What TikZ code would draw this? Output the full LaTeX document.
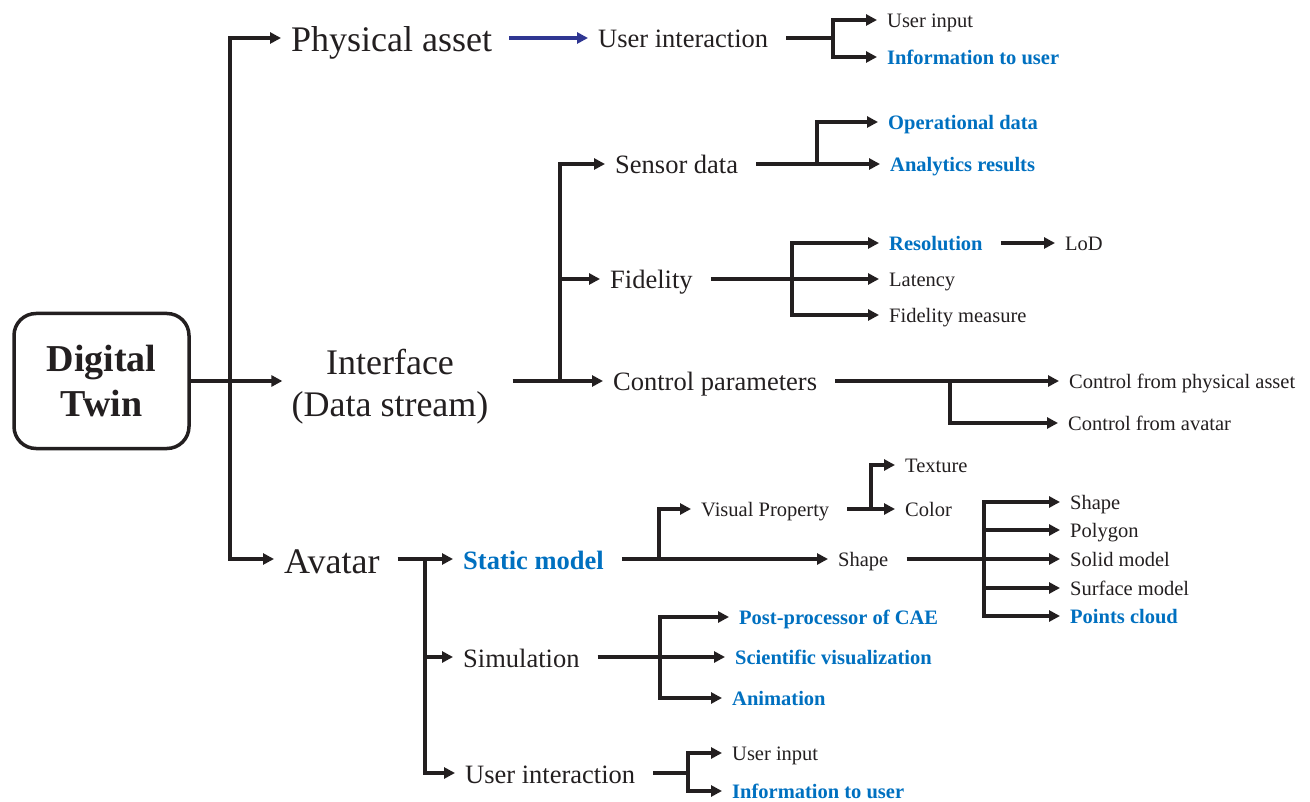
\documentclass[tikz,border=0pt]{standalone}
\usepackage{fontspec}
\setmainfont{Liberation Serif}
\usetikzlibrary{arrows.meta}
\definecolor{ink}{RGB}{35,31,32}
\definecolor{hlblue}{RGB}{0,112,192}
\definecolor{linkblue}{RGB}{47,54,146}
\tikzset{
  ln/.style={draw=ink, line width=3.5pt},
  ar/.style={ln, ->},
  stem/.style={ln, shorten <=8pt},
  lbl/.style={anchor=west, inner xsep=10pt, inner ysep=0pt, text=ink},
  big/.style={lbl, text height=32pt, text depth=4pt, font=\fontsize{36}{42}\selectfont},
  mid/.style={lbl, text height=23.5pt, text depth=3.5pt, font=\fontsize{26.5}{31}\selectfont},
  small/.style={lbl, text height=18pt, text depth=2.8pt, font=\fontsize{20.5}{24}\selectfont},
  hl/.style={text=hlblue, execute at begin node=\bfseries},
  twinbox/.style={draw=ink, line width=3.5pt, rounded corners=22pt, minimum width=175pt, minimum height=135pt, align=center, text=ink, font=\fontsize{38}{45}\selectfont\bfseries}
}
\begin{document}
\begin{tikzpicture}[>={Triangle[length=11pt,width=11pt]}, x=1pt, y=-1pt]
\useasboundingbox (0,0) rectangle (1310,802);
\node[twinbox] (dt) at (101.5,381) {Digital\\Twin};
\coordinate (dtb) at (230,381);
\node[big] (pa) at (281,38) {Physical asset};
\node[align=center, inner xsep=9pt, text=ink, font=\fontsize{36}{42}\selectfont] (ifc) at (390,387) {Interface\\(Data stream)};
\node[big] (av) at (274,559) {Avatar};
\draw[ln] (dt.east) -- (dtb);
\draw[ar] (dtb) |- (pa.west); \draw[ar] (dtb) -- (dtb -| ifc.west); \draw[ar] (dtb) |- (av.west);

\node[mid] (ui) at (588,38) {User interaction};
\draw[->, draw=linkblue, line width=3.2pt, shorten <=7pt] (pa.east) -- (ui.west);
\coordinate (uib) at (833,38);
\node[small] (uin) at (877,20) {User input};
\node[small, hl] (uinfo) at (877,57) {Information to user};
\draw[stem] (ui.east) -- (uib);
\draw[ar] (uib) |- (uin.west); \draw[ar] (uib) |- (uinfo.west);

\coordinate (ifcb) at (560,381);
\node[mid] (sd) at (605,164) {Sensor data};
\node[mid] (fi) at (600,279) {Fidelity};
\node[mid] (cp) at (603,381) {Control parameters};
\draw[stem, shorten <=15pt] (ifc.east |- ifcb) -- (ifcb);
\draw[ar] (ifcb) |- (sd.west); \draw[ar] (ifcb) |- (fi.west); \draw[ar] (ifcb) -- (cp.west);

\coordinate (sdb) at (817,164);
\node[small, hl] (od) at (878,122) {Operational data};
\node[small, hl] (ar) at (880,164) {Analytics results};
\draw[stem] (sd.east) -- (sdb);
\draw[ar] (sdb) |- (od.west); \draw[ar] (sdb) -- (ar.west);

\coordinate (fib) at (792,279);
\node[small, hl] (res) at (879,243) {Resolution};
\node[small] (lat) at (879,279) {Latency};
\node[small] (fm) at (879,315) {Fidelity measure};
\node[small] (lod) at (1055,243) {LoD};
\draw[stem] (fi.east) -- (fib);
\draw[ar] (fib) |- (res.west); \draw[ar] (fib) -- (lat.west); \draw[ar] (fib) |- (fm.west);
\draw[ar, shorten <=8pt] (res.east) -- (lod.west);

\coordinate (cpb) at (950,381);
\node[small] (cfp) at (1059,381) {Control from physical asset};
\node[small] (cfa) at (1058,423) {Control from avatar};
\draw[stem] (cp.east) -- (cpb);
\draw[ar] (cpb) -- (cfp.west); \draw[ar] (cpb) |- (cfa.west);

\coordinate (avb) at (425,559);
\node[mid, hl] (sm) at (453,559) {Static model};
\node[mid] (sim) at (453,657) {Simulation};
\node[mid] (uia) at (455,773) {User interaction};
\draw[stem] (av.east) -- (avb);
\draw[ar] (avb) -- (sm.west); \draw[ar] (avb) |- (sim.west); \draw[ar] (avb) |- (uia.west);

\coordinate (smb) at (659,559);
\node[small] (vp) at (691,509) {Visual Property};
\node[small] (shp) at (828,559) {Shape};
\draw[stem] (sm.east) -- (smb);
\draw[ar] (smb) |- (vp.west); \draw[ar] (smb) -- (shp.west);

\coordinate (vpb) at (871,509);
\node[small] (tex) at (895,465) {Texture};
\node[small] (col) at (895,509) {Color};
\draw[stem] (vp.east) -- (vpb);
\draw[ar] (vpb) |- (tex.west); \draw[ar] (vpb) -- (col.west);

\coordinate (shb) at (984,559);
\node[small] (sh1) at (1060,502) {Shape};
\node[small] (sh2) at (1060,530) {Polygon};
\node[small] (sh3) at (1060,559) {Solid model};
\node[small] (sh4) at (1060,588) {Surface model};
\node[small, hl] (sh5) at (1060,616) {Points cloud};
\draw[stem] (shp.east) -- (shb);
\draw[ar] (shb) |- (sh1.west); \draw[ar] (shb) |- (sh2.west); \draw[ar] (shb) -- (sh3.west);
\draw[ar] (shb) |- (sh4.west); \draw[ar] (shb) |- (sh5.west);

\coordinate (simb) at (660,657);
\node[small, hl] (pp) at (729,617) {Post-processor of CAE};
\node[small, hl] (sv) at (725,657) {Scientific visualization};
\node[small, hl] (an) at (722,698) {Animation};
\draw[stem] (sim.east) -- (simb);
\draw[ar] (simb) |- (pp.west); \draw[ar] (simb) -- (sv.west); \draw[ar] (simb) |- (an.west);

\coordinate (uiab) at (688,773);
\node[small] (uia1) at (722,753) {User input};
\node[small, hl] (uia2) at (722,791) {Information to user};
\draw[stem] (uia.east) -- (uiab);
\draw[ar] (uiab) |- (uia1.west); \draw[ar] (uiab) |- (uia2.west);
\end{tikzpicture}
\end{document}
